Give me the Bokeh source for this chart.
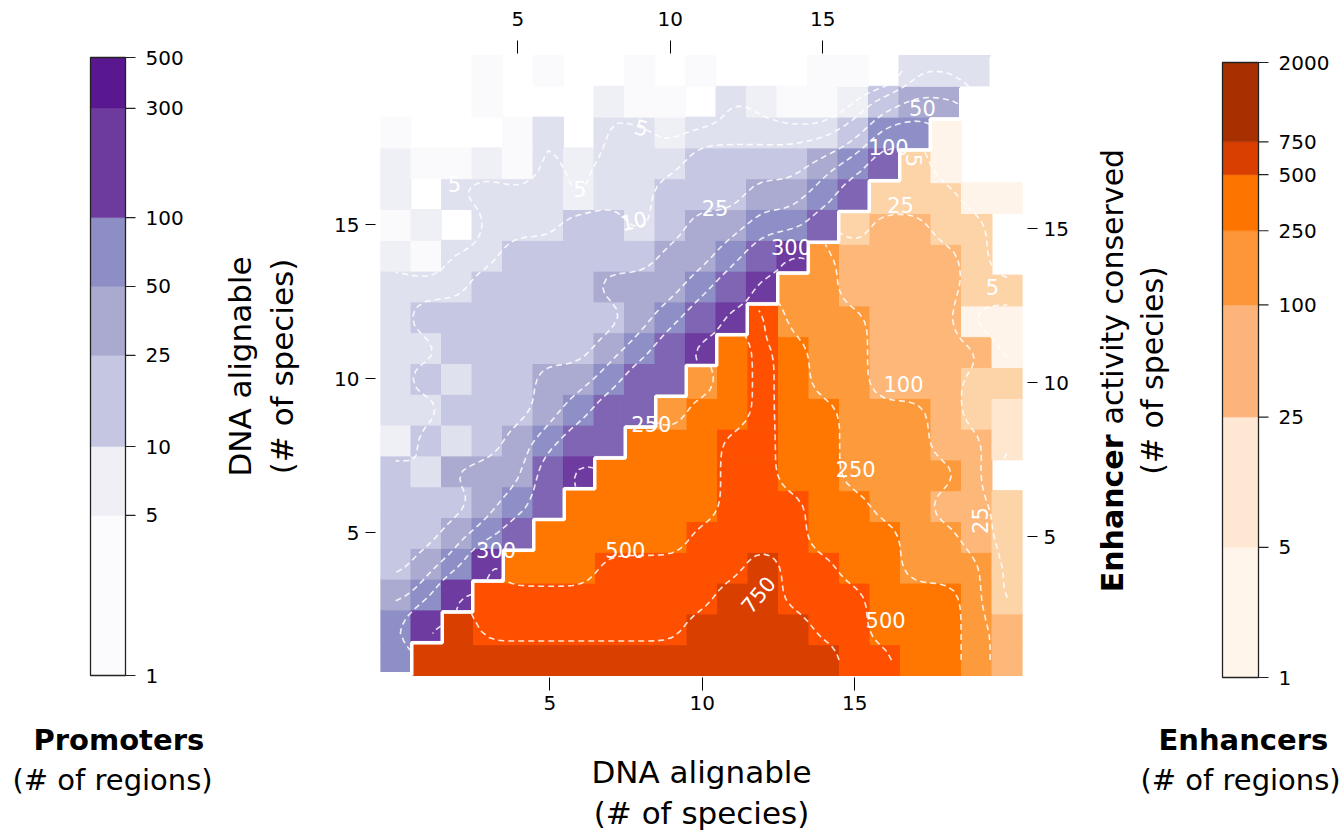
import numpy as np
from bokeh.plotting import figure
from bokeh.models import Range1d, LinearAxis, FixedTicker, Label, ColumnDataSource, Title
from bokeh.core.properties import value
from bokeh.layouts import row
from bokeh.embed import file_html
from bokeh.resources import INLINE

# ---------------- data ----------------
N = 20
# Promoters: row k -> DNA alignable (left axis) = k, entries for top-axis value 1..k
PROMOTER_ROWS = [
    [70],
    [70, 400],
    [35, 70, 400],
    [17, 35, 70, 400],
    [17, 17, 35, 70, 180],
    [17, 17, 17, 35, 70, 180],
    [17, 7, 35, 35, 35, 180, 400],
    [4, 17, 7, 17, 35, 70, 180, 180],
    [7, 7, 17, 17, 17, 35, 70, 180, 180],
    [7, 17, 7, 17, 17, 35, 35, 70, 180, 180],
    [7, 7, 17, 17, 17, 17, 17, 35, 70, 180, 400],
    [7, 17, 17, 17, 17, 17, 17, 17, 35, 70, 180, 400],
    [7, 7, 7, 17, 17, 17, 17, 35, 35, 35, 70, 180, 400],
    [4, 2, 7, 7, 17, 17, 17, 17, 17, 35, 35, 70, 180, 400],
    [2, 4, 0, 7, 7, 7, 17, 17, 7, 17, 35, 35, 70, 70, 180],
    [4, 0, 7, 7, 7, 7, 4, 7, 7, 17, 17, 17, 35, 35, 70, 180],
    [4, 2, 2, 4, 2, 7, 4, 7, 7, 7, 17, 17, 17, 17, 35, 70, 180],
    [2, 0, 0, 0, 2, 7, 0, 7, 7, 4, 7, 7, 7, 7, 7, 17, 70, 70],
    [0, 0, 0, 2, 0, 0, 0, 4, 2, 2, 0, 7, 4, 2, 2, 4, 17, 35, 35],
    [0, 0, 0, 2, 0, 2, 0, 0, 2, 0, 2, 0, 0, 0, 2, 2, 0, 7, 7, 7],
]
# Enhancers: row k -> activity conserved (right axis) = k, entries for DNA alignable k..20
ENHANCER_ROWS = [
    [1000] * 14 + [620, 620, 370, 370, 170, 50],
    [1000] + [620] * 7 + [1000] * 4 + [620, 620, 370, 370, 370, 170, 50],
    [620] * 8 + [1000, 1000] + [620] * 3 + [370] * 3 + [170, 12],
    [370] * 3 + [620] * 5 + [1000] + [620, 620, 370, 370, 170, 170, 170, 12],
    [370] * 5 + [620] * 4 + [370] * 3 + [170, 170, 50, 12],
    [370] * 5 + [620] * 3 + [370, 370, 170, 170, 50, 50, 12],
    [370] * 4 + [620, 620, 370, 370] + [170] * 4 + [50, 0],
    [370] * 3 + [620, 620, 370, 370] + [170] * 3 + [50, 50, 4],
    [170, 370, 370, 620, 370, 370, 170, 170, 170, 50, 12, 4],
    [170, 370, 620, 370, 170, 170, 50, 50, 50, 12, 12],
    [370, 620, 370, 170, 170, 50, 50, 50, 50, 2],
    [620, 170, 170, 170, 50, 50, 50, 2, 2],
    [170, 170, 50, 50, 50, 50, 12, 12],
    [170, 50, 50, 50, 50, 12, 0],
    [12, 50, 50, 12, 12, 0],
    [12, 12, 12, 2, 2],
    [12, 2, 0, 0],
    [2, 0, 0],
    [0, 0],
    [0],
]

PROMOTER_CONTOUR_LEVELS = [5, 10, 25, 50, 100, 300]
ENHANCER_CONTOUR_LEVELS = [5, 25, 100, 250, 500, 750]
PROMOTER_BAR_EDGES = [1, 5, 10, 25, 50, 100, 300, 500]
ENHANCER_BAR_EDGES = [1, 5, 25, 100, 250, 500, 750, 2000]
AXIS_TICKS = [5, 10, 15]

# contour labels (text, x, y, angle in degrees), in the enhancer axes' units
PROMOTER_CONTOUR_LABELS = [
    ("5", 1.87, 16.47, 0), ("5", 5.99, 16.31, 0), ("5", 8.01, 18.29, -15),
    ("10", 7.75, 15.27, 12), ("25", 10.42, 15.69, 0), ("50", 17.22, 18.91, 0),
    ("100", 16.11, 17.67, 0), ("300", 12.91, 14.40, 0), ("300", 3.24, 4.56, 0),
]
ENHANCER_CONTOUR_LABELS = [
    ("5", 16.93, 17.22, -90), ("25", 16.50, 15.79, 0), ("5", 19.51, 13.10, 0),
    ("100", 16.60, 9.98, 0), ("250", 8.33, 8.68, 0), ("250", 15.03, 7.22, 0),
    ("25", 19.12, 5.53, 90), ("500", 7.48, 4.56, 0), ("750", 11.83, 3.13, 50),
    ("500", 16.01, 2.29, 0),
]

# ---------------- style ----------------
FONT = "DejaVu Sans"
PROM_CELL_EDGES = [1, 3, 5, 10, 25, 50, 100, 300]
PROM_CELL_COLORS = ["#fafafc", "#efeff6", "#e0e1ef", "#c6c8e3", "#abaad0", "#8e8fc6", "#7f65b3", "#6e3ba0"]
ENH_CELL_EDGES = [1, 3, 5, 25, 100, 250, 500, 750]
ENH_CELL_COLORS = ["#fff4e9", "#fee6cf", "#fdd3a8", "#fdb778", "#fd9a3c", "#ff7700", "#ff5000", "#d94000"]
PROM_BAR_COLORS = ["#fbfbfd", "#efeff5", "#c5c7e2", "#aaa9cf", "#8d8ec5", "#6d3a9e", "#5a1890"]
ENH_BAR_COLORS = ["#fff5eb", "#fee8d3", "#fdb47a", "#fd9638", "#fe7400", "#d93f00", "#a83000"]

H = 836
FT, FB = 42, 690                  # common frame top / bottom (canvas px)
GRID_TOP, GRID_BOT = 55, 675      # where the heatmap cells start / end
DX, DY = -1.05, 0.13              # promoter grid drawn shifted against enhancer grid
UNIT_Y = (GRID_BOT - GRID_TOP) / 20.13
X0, X1 = -0.55, 20.5
Y0 = 0.5 - (FB - GRID_BOT) / UNIT_Y
Y1 = 20.63 + (GRID_TOP - FT) / UNIT_Y


def cell_color(v, edges, colors):
    i = int(np.searchsorted(edges, v, side="right")) - 1
    return colors[max(0, min(i, len(colors) - 1))]


def make_title(text, size, bold=False, align="center", offset=0, standoff=0):
    t = Title(text=text, align=align, offset=offset, text_font=FONT, text_font_size=size,
              text_font_style="bold" if bold else "normal", text_color="black")
    try:
        t.standoff = standoff
    except Exception:
        pass
    return t


# ---------------- main heatmap ----------------
MAIN_LEFT, MAIN_W = 215, 880
FL, FR = 378, 1022

p = figure(width=MAIN_W, height=H, x_range=Range1d(X0, X1), y_range=Range1d(Y0, Y1),
           x_axis_location="below", y_axis_location="right", toolbar_location=None,
           output_backend="svg", min_border_left=FL - MAIN_LEFT,
           min_border_right=MAIN_LEFT + MAIN_W - FR, min_border_top=FT, min_border_bottom=H - FB)
p.outline_line_color = None
p.grid.visible = False
p.extra_x_ranges = {"prom_x": Range1d(X0 - DX, X1 - DX)}
p.extra_y_ranges = {"prom_y": Range1d(Y0 - DY, Y1 - DY)}
p.add_layout(LinearAxis(x_range_name="prom_x"), "above")
p.add_layout(LinearAxis(y_range_name="prom_y"), "left")


def style_axis(ax, tin, tout, standoff):
    ax.ticker = FixedTicker(ticks=AXIS_TICKS)
    ax.axis_line_color = None
    ax.major_tick_in = tin
    ax.major_tick_out = tout
    ax.major_tick_line_color = "black"
    ax.minor_tick_line_color = None
    ax.major_label_standoff = standoff
    ax.major_label_text_font = FONT
    ax.major_label_text_font_size = "20px"
    ax.major_label_text_color = "black"
    ax.axis_label_text_font = FONT
    ax.axis_label_text_font_size = "31px"
    ax.axis_label_text_font_style = "normal"
    ax.axis_label_text_color = "black"


style_axis(p.below[0], FB - GRID_BOT - 2, 0, 5)
style_axis(p.above[0], GRID_TOP - 2 - FT, 2, 15)
style_axis(p.left[0], -5, 15, 6)
style_axis(p.right[0], -5, 15, 6)

p.below[0].axis_label = "DNA alignable"
p.below[0].axis_label_standoff = 41
p.add_layout(make_title("(# of species)", "31px", offset=5, standoff=0), "below")
p.left[0].axis_label = "(# of species)"
p.left[0].axis_label_standoff = 31
p.add_layout(make_title("DNA alignable", "31px", offset=-6, standoff=8), "left")

# promoter cells
px, py, pcol = [], [], []
for j, r in enumerate(PROMOTER_ROWS):
    for i, v in enumerate(r):
        if v >= 1:
            px.append(i + 1 + DX)
            py.append(j + 1 + DY)
            pcol.append(cell_color(v, PROM_CELL_EDGES, PROM_CELL_COLORS))
p.rect(x="x", y="y", width=1, height=1, fill_color="c", line_color="c", line_width=1,
       source=ColumnDataSource(dict(x=px, y=py, c=pcol)))

# enhancer cells
ex, ey, ecol = [], [], []
for j, r in enumerate(ENHANCER_ROWS):
    for i, v in enumerate(r):
        if v >= 1:
            ex.append(j + 1 + i)
            ey.append(j + 1)
            ecol.append(cell_color(v, ENH_CELL_EDGES, ENH_CELL_COLORS))
p.rect(x="x", y="y", width=1, height=1, fill_color="c", line_color="c", line_width=1,
       source=ColumnDataSource(dict(x=ex, y=ey, c=ecol)))

# white staircase separating the two triangles
vx = -0.5 + (DX + 1) / 2
hy = 0.5 + DY / 2
sx, sy = [1 + vx], [0.5]
for k in range(1, N + 1):
    sx += [k + vx, k + 1 + vx]
    sy += [k + hy, k + hy]
p.line(sx, sy, line_color="white", line_width=3.5)


# contours (dashed white), computed on a smoothed, upsampled log-grid
def grid_from_rows(rows, enhancer):
    Z = np.full((N, N), np.nan)
    for j, r in enumerate(rows):
        for i, v in enumerate(r):
            xi = j + i if enhancer else i
            Z[j, xi] = np.log10(max(v, 1))
    return Z


def _conv_axis(a, k, axis):
    return np.apply_along_axis(lambda m: np.convolve(m, k, mode="same"), axis, a)


def upsample_smooth(xs, ys, Z, f=4, passes=2):
    nx, ny = len(xs), len(ys)
    t = np.arange((nx - 1) * f + 1) / f
    u = np.arange((ny - 1) * f + 1) / f
    i0 = np.minimum(np.floor(t).astype(int), nx - 2)
    j0 = np.minimum(np.floor(u).astype(int), ny - 2)
    tx, ty = t - i0, u - j0
    num = np.zeros((len(u), len(t)))
    den = np.zeros_like(num)
    for dj, wy in ((0, 1 - ty), (1, ty)):
        for di, wx in ((0, 1 - tx), (1, tx)):
            v = Z[np.ix_(j0 + dj, i0 + di)]
            w = wy[:, None] * wx[None, :]
            ok = ~np.isnan(v)
            num += np.where(ok, v * w, 0.0)
            den += np.where(ok, w, 0.0)
    Zf = np.where(den >= 0.5, num / np.maximum(den, 1e-9), np.nan)
    k = np.array([1, 4, 6, 4, 1], dtype=float)
    for _ in range(passes):
        W = ~np.isnan(Zf)
        V = np.where(W, Zf, 0.0)
        nn = _conv_axis(_conv_axis(V, k, 0), k, 1)
        dd = _conv_axis(_conv_axis(W.astype(float), k, 0), k, 1)
        Zf = np.where(W, nn / np.maximum(dd, 1e-9), np.nan)
    fx = xs[0] + t * (xs[1] - xs[0])
    fy = ys[0] + u * (ys[1] - ys[0])
    return fx, fy, Zf


def contour_lines(xs, ys, Z, levels):
    try:
        from contourpy import contour_generator
    except Exception:
        return [], []
    fx, fy, Zf = upsample_smooth(xs, ys, Z)
    cg = contour_generator(x=fx, y=fy, z=np.ma.masked_invalid(Zf), line_type="Separate")
    lx, ly = [], []
    for lv in levels:
        for seg in cg.lines(np.log10(lv)):
            lx.append(seg[:, 0].tolist())
            ly.append(seg[:, 1].tolist())
    return lx, ly


gx = np.arange(1, N + 1, dtype=float)
plx, ply = contour_lines(gx + DX, gx + DY, grid_from_rows(PROMOTER_ROWS, False), PROMOTER_CONTOUR_LEVELS)
elx, ely = contour_lines(gx, gx, grid_from_rows(ENHANCER_ROWS, True), ENHANCER_CONTOUR_LEVELS)
if plx + elx:
    p.multi_line(xs=plx + elx, ys=ply + ely, line_color="white", line_dash="6 4",
                 line_width=1.6, line_alpha=0.85)

for txt, x, y, a in PROMOTER_CONTOUR_LABELS + ENHANCER_CONTOUR_LABELS:
    p.add_layout(Label(x=x, y=y, text=txt, angle=np.radians(a), text_color="white",
                       text_font=FONT, text_font_size="21px", text_align="center",
                       text_baseline="middle"))


# ---------------- colour bars (frame spans the whole figure width) ----------------
def make_bar_fig(fig_left, width, bar_l, bar_r, bar_top, bar_bot, edges, colors):
    l0, l1 = np.log10(edges[0]), np.log10(edges[-1])
    dpx = (bar_bot - bar_top) / (l1 - l0)
    ylo = 10 ** (l0 - (FB - bar_bot) / dpx)
    yhi = 10 ** (l1 + (bar_top - FT) / dpx)
    f = figure(width=width, height=H, x_range=Range1d(fig_left, fig_left + width),
               y_range=Range1d(ylo, yhi), y_axis_type="log", x_axis_location=None,
               y_axis_location=None, toolbar_location=None, output_backend="svg",
               min_border_left=0, min_border_right=0, min_border_top=FT, min_border_bottom=H - FB)
    f.grid.visible = False
    f.outline_line_color = None
    f.quad(left=bar_l, right=bar_r, bottom=edges[:-1], top=edges[1:], fill_color=colors,
           line_color=colors, line_width=0.5)
    f.quad(left=bar_l, right=bar_r, bottom=edges[0], top=edges[-1], fill_color=None,
           line_color="#222222", line_width=1.3)
    f.segment(x0=bar_r, x1=bar_r + 10, y0=edges, y1=edges, line_color="#222222", line_width=1.2)
    f.text(x=bar_r + 20, y=edges, text=[str(e) for e in edges], text_font=value(FONT),
           text_font_size=value("20px"), text_align="left", text_baseline="middle",
           text_color="black")

    def fy(Y):
        return 10 ** (l0 + (bar_bot - Y) / dpx)
    return f, fy


def add_bar_titles(f, title, t_off, s_off):
    # a tiny blank title acts as a spacer below the frame
    f.add_layout(make_title("\u00a0", "1px", standoff=27), "below")
    f.add_layout(make_title(title, "29px", bold=True, align="left", offset=t_off, standoff=0), "below")
    f.add_layout(make_title("(# of regions)", "29px", align="left", offset=s_off, standoff=8), "below")


left, _ = make_bar_fig(0, 215, 90, 125, 57, 675, PROMOTER_BAR_EDGES, PROM_BAR_COLORS)
add_bar_titles(left, "Promoters", 33, 12)

right, rfy = make_bar_fig(1095, 249, 1222, 1258, 62, 677, ENHANCER_BAR_EDGES, ENH_BAR_COLORS)
add_bar_titles(right, "Enhancers", 63, 45)

# right-hand axis title of the heatmap (mixed weight), inside this figure's frame
right.text(x=[1112], y=[rfy(434)], text=["Enhancer"], angle=np.pi / 2, text_font=value(FONT),
           text_font_size=value("30px"), text_font_style="bold", text_align="right",
           text_baseline="middle", text_color="black")
right.text(x=[1112], y=[rfy(424)], text=["activity conserved"], angle=np.pi / 2,
           text_font=value(FONT), text_font_size=value("30px"), text_align="left",
           text_baseline="middle", text_color="black")
right.text(x=[1152], y=[rfy(370)], text=["(# of species)"], angle=np.pi / 2,
           text_font=value(FONT), text_font_size=value("30px"), text_align="center",
           text_baseline="middle", text_color="black")

layout = row(left, p, right)
open("out.html", "w").write(file_html(layout, INLINE))
